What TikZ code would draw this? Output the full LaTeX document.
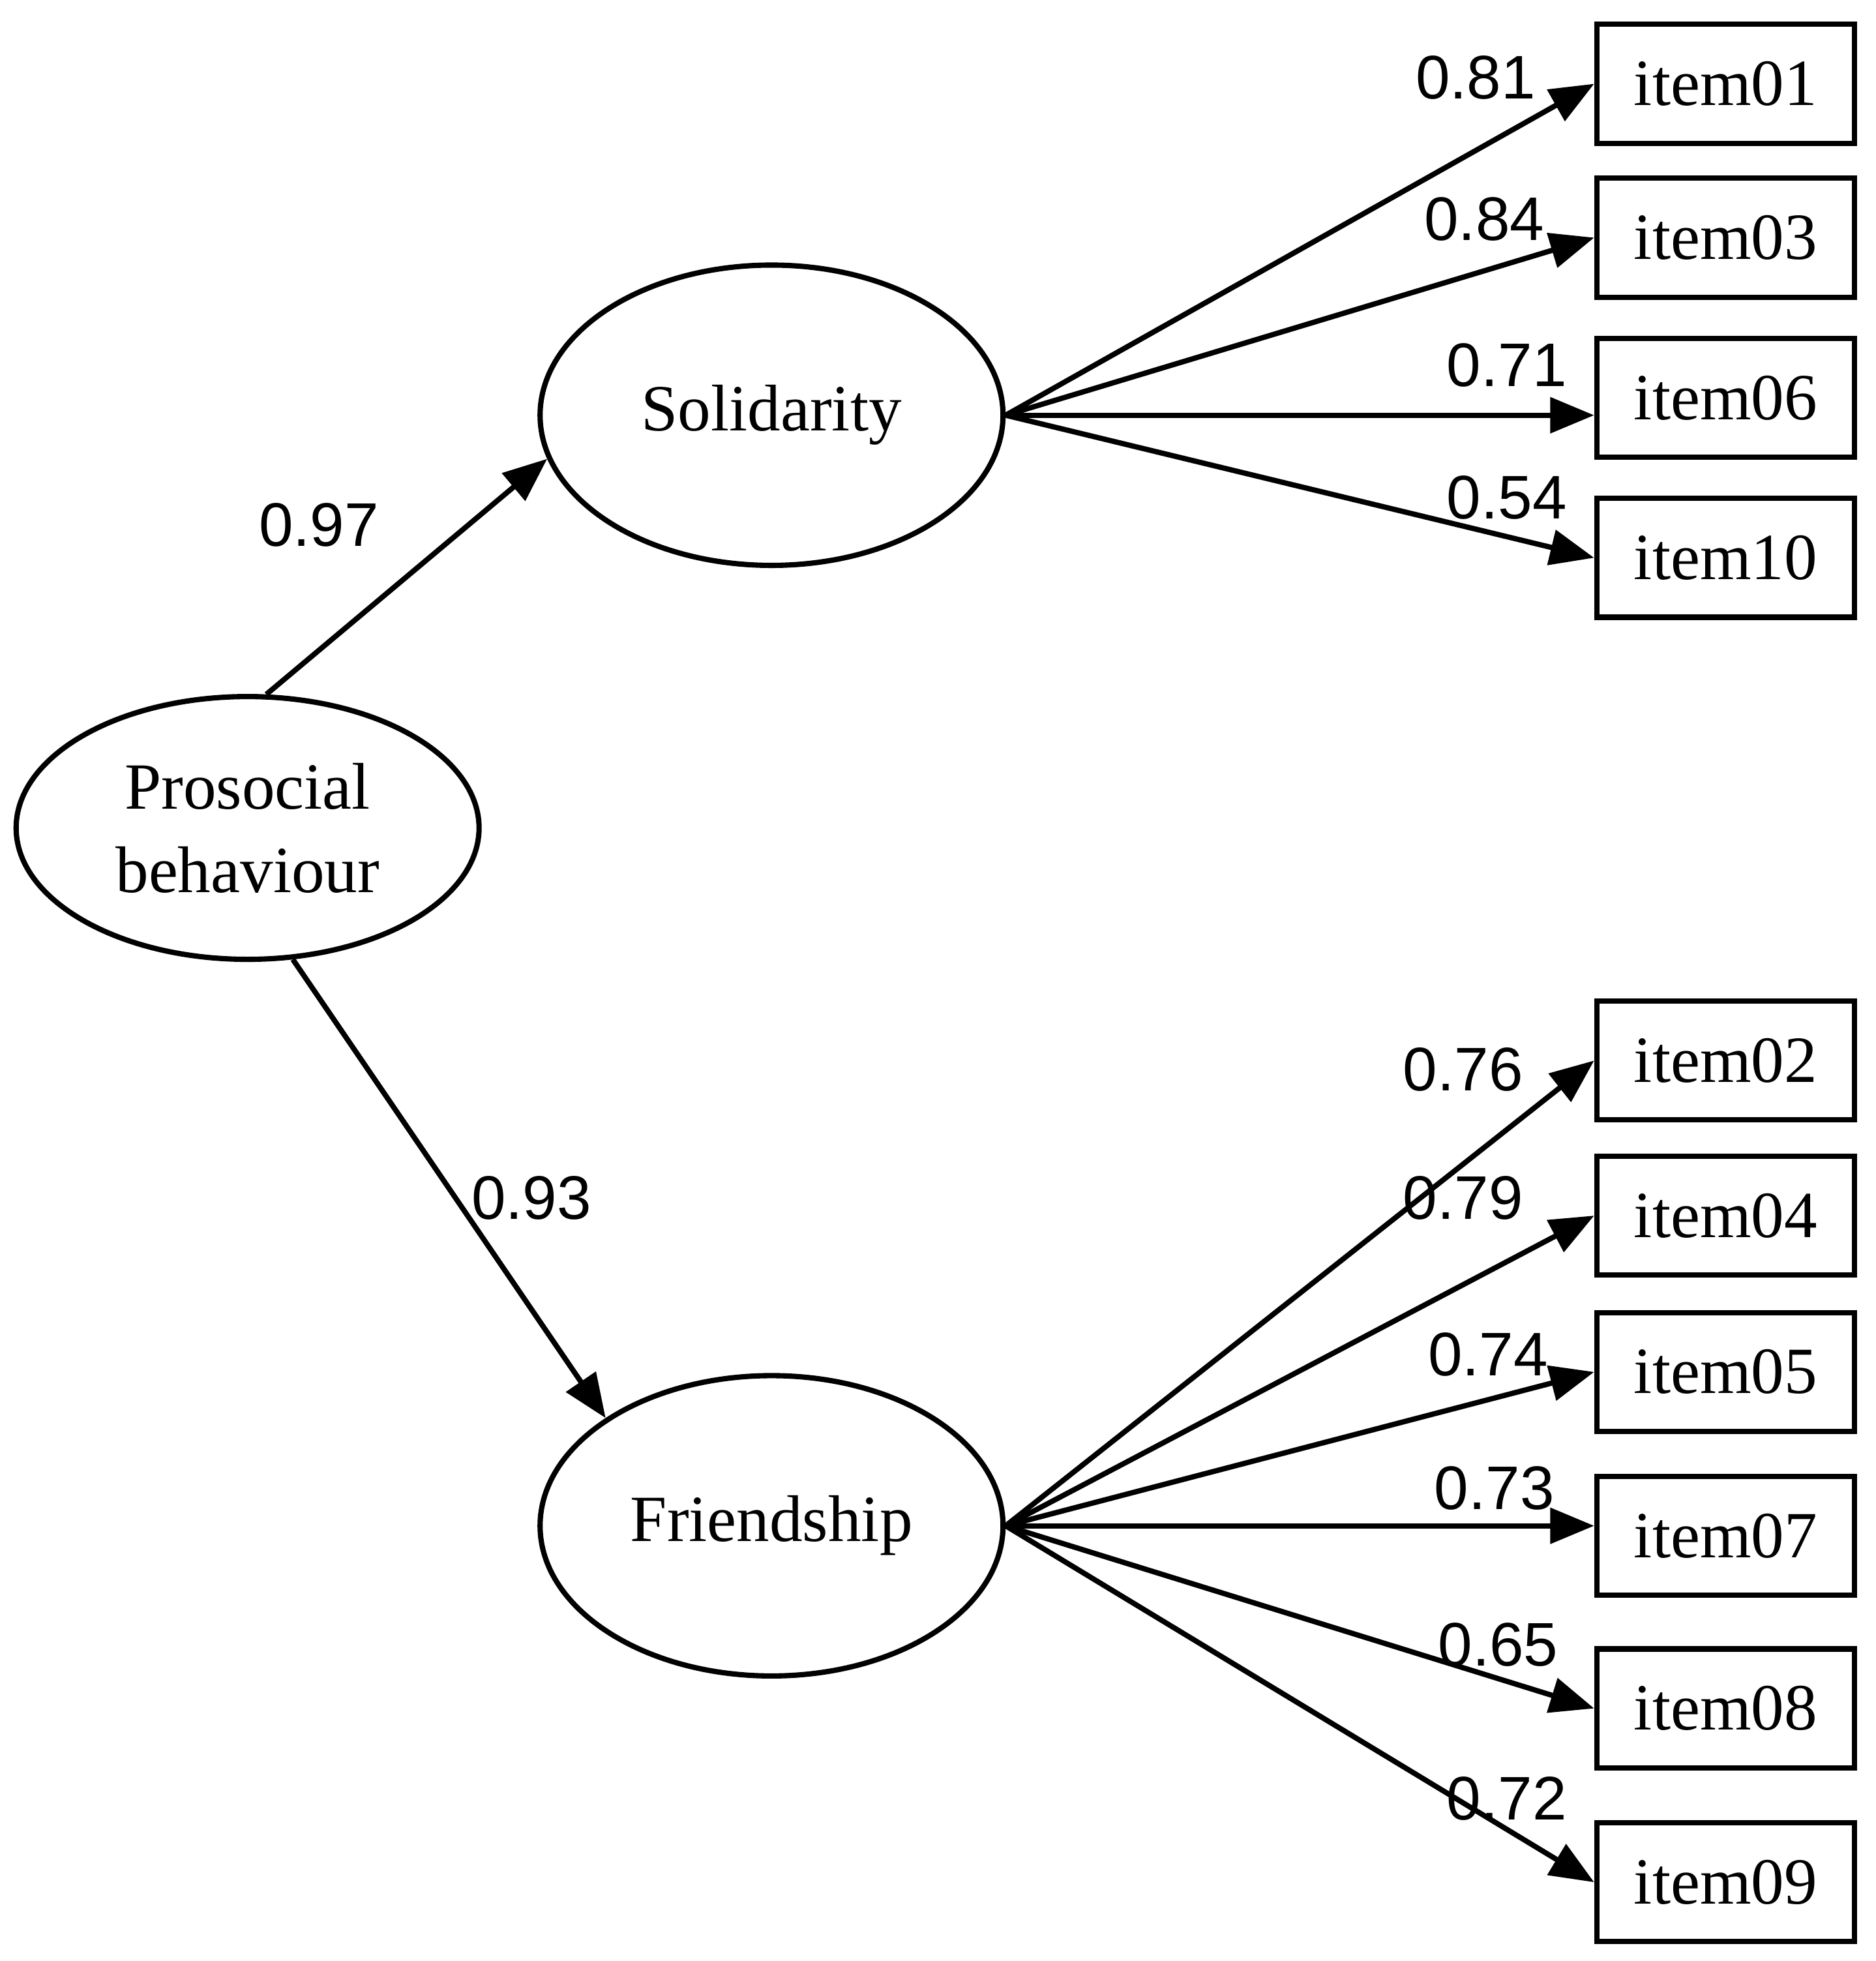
\documentclass[tikz,border=0pt]{standalone}
\usepackage{fontspec}
\setmainfont{Liberation Serif}
\newfontfamily\numf{Liberation Sans}
\usetikzlibrary{shapes.geometric,arrows.meta}
\begin{document}
\begin{tikzpicture}[x=0.01cm,y=-0.01cm,
 lat/.style={draw,line width=1.2pt,ellipse,inner sep=0pt,align=center,font=\fontsize{15}{19}\selectfont},
 box/.style={draw,line width=1.2pt,minimum width=2.06cm,minimum height=0.95cm,inner sep=0pt,font=\fontsize{15}{18}\selectfont},
 arr/.style={line width=1.2pt,-{Triangle[length=10pt,width=8pt]}},
 num/.style={font=\numf\fontsize{14}{16}\selectfont}]
\useasboundingbox (0,0) rectangle (1500,1568);
\node[lat,minimum width=3.7cm,minimum height=2.1cm] (pro) at (198,662) {Prosocial\\behaviour};
\node[lat,minimum width=3.7cm,minimum height=2.4cm] (sol) at (617,332) {Solidarity};
\node[lat,minimum width=3.7cm,minimum height=2.4cm] (fri) at (617,1220) {Friendship};
\foreach \n/\y in {01/67,03/190,06/318,10/446,02/848,04/972,05/1097,07/1228,08/1366,09/1505}
  \node[box] (i\n) at (1380,\y) {item\n};
\draw[arr] (pro.82) -- (sol.191);
\draw[arr] (pro.289) -- (fri.147);
\node[num] (l97) at (255,420) {0.97};
\node[num] (l93) at (425,958) {0.93};
\foreach \n/\l/\x/\yy in {01/0.81/1180/62,03/0.84/1187/175,10/0.54/1205/398}{
  \draw[arr] (sol.east) -- (i\n.west);
  \node[num] (n\n) at (\x,\yy) {\l};}
\draw[arr] (sol.east) -- (sol.east -| i06.west);
\node[num] (n06) at (1205,292) {0.71};
\foreach \n/\l/\x/\yy in {02/0.76/1170/855,04/0.79/1170/958,05/0.74/1190/1083,08/0.65/1198/1315,09/0.72/1205/1438}{
  \draw[arr] (fri.east) -- (i\n.west);
  \node[num] (n\n) at (\x,\yy) {\l};}
\draw[arr] (fri.east) -- (fri.east -| i07.west);
\node[num] (n07) at (1195,1190) {0.73};
\end{tikzpicture}
\end{document}
